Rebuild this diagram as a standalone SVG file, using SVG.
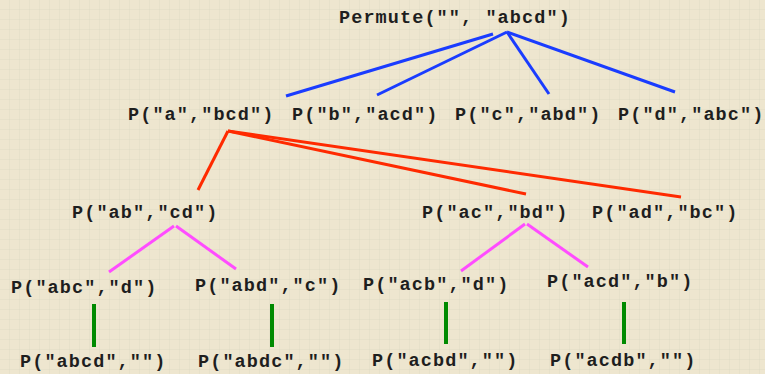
<svg xmlns="http://www.w3.org/2000/svg" width="765" height="374" viewBox="0 0 765 374">
<defs>
<pattern id="grid" width="10" height="10" patternUnits="userSpaceOnUse">
<path d="M10 0V10M0 10H10" fill="none" stroke="#d9d6c0" stroke-width="1" opacity="0.7"/>
</pattern>
<style>
text{font-family:"Liberation Mono","Courier New",monospace;font-weight:bold;font-size:18.5px;letter-spacing:1.1px;fill:#1e1e1e}
.b{stroke:#1a3cff;stroke-width:3;fill:none}
.r{stroke:#ff2a00;stroke-width:3;fill:none}
.m{stroke:#ff4cff;stroke-width:3;fill:none}
.g{stroke:#008a00;stroke-width:4;fill:none}
</style>
</defs>
<rect width="765" height="374" fill="#eee6cf"/>
<rect width="765" height="374" fill="url(#grid)"/>
<g id="connectors">
<line class="b" x1="493" y1="34" x2="286" y2="96"/>
<line class="b" x1="507" y1="32" x2="377" y2="95"/>
<line class="b" x1="507" y1="32" x2="549" y2="94"/>
<line class="b" x1="507" y1="32" x2="675" y2="92"/>
<line class="r" x1="228" y1="131" x2="198" y2="190"/>
<line class="r" x1="228" y1="131" x2="526" y2="194"/>
<line class="r" x1="228" y1="131" x2="681" y2="197"/>
<line class="m" x1="174" y1="226" x2="109" y2="272"/>
<line class="m" x1="176" y1="226" x2="236" y2="269"/>
<line class="m" x1="525" y1="224" x2="461" y2="271"/>
<line class="m" x1="527" y1="224" x2="588" y2="267"/>
<line class="g" x1="94" y1="304" x2="94" y2="347"/>
<line class="g" x1="272" y1="304" x2="272" y2="347"/>
<line class="g" x1="446" y1="302" x2="446" y2="344"/>
<line class="g" x1="624" y1="302" x2="624" y2="344"/>
</g>
<g id="root"><text x="339" y="23">Permute("", "abcd")</text></g>
<g id="n_a"><text x="128" y="120">P("a","bcd")</text></g>
<g id="n_b"><text x="292" y="120">P("b","acd")</text></g>
<g id="n_c"><text x="455" y="120">P("c","abd")</text></g>
<g id="n_d"><text x="618" y="120">P("d","abc")</text></g>
<g id="n_ab"><text x="72" y="218">P("ab","cd")</text></g>
<g id="n_ac"><text x="422" y="218">P("ac","bd")</text></g>
<g id="n_ad"><text x="592" y="218">P("ad","bc")</text></g>
<g id="n_abc"><text x="11" y="293">P("abc","d")</text></g>
<g id="n_abd"><text x="195" y="291">P("abd","c")</text></g>
<g id="n_acb"><text x="363" y="290">P("acb","d")</text></g>
<g id="n_acd"><text x="547" y="287">P("acd","b")</text></g>
<g id="n_abcd"><text x="20" y="367">P("abcd","")</text></g>
<g id="n_abdc"><text x="198" y="367">P("abdc","")</text></g>
<g id="n_acbd"><text x="372" y="366">P("acbd","")</text></g>
<g id="n_acdb"><text x="550" y="366">P("acdb","")</text></g>
</svg>
